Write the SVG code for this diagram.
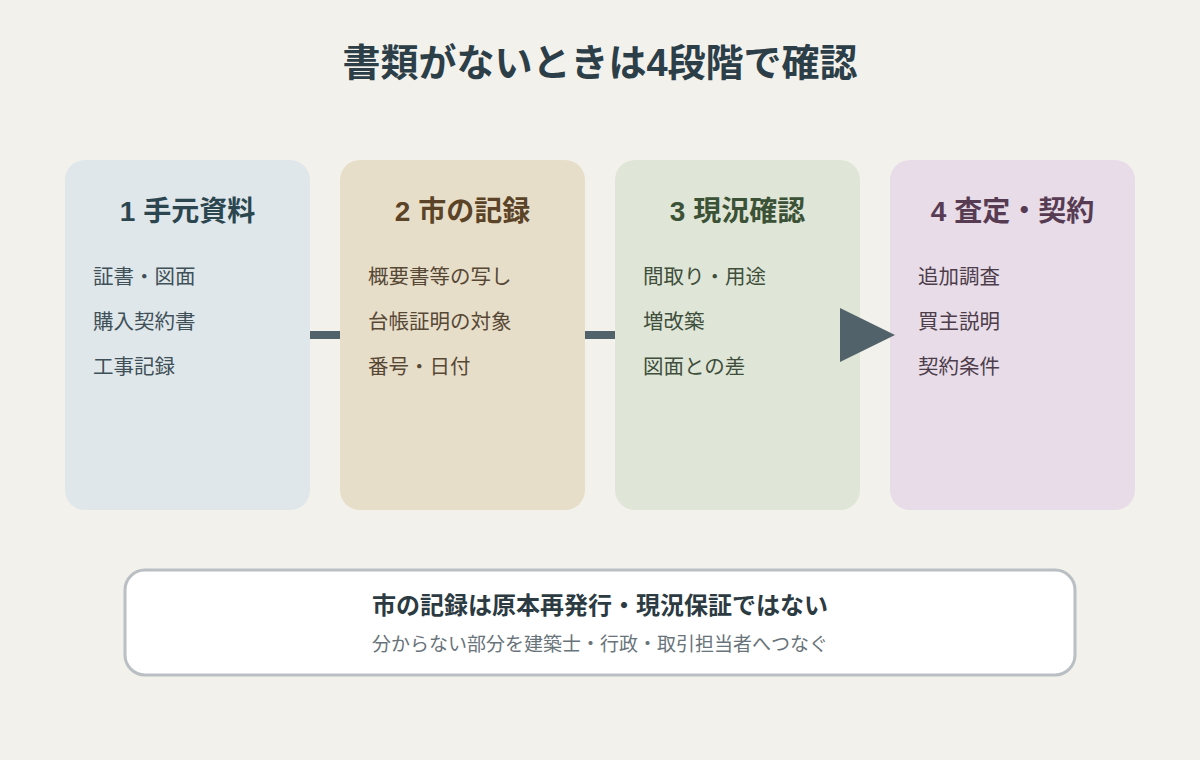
<svg xmlns="http://www.w3.org/2000/svg" width="1200" height="760" viewBox="0 0 1200 760">
<style>
text{font-family:"Liberation Sans","Noto Sans CJK JP",sans-serif}
.title{font-size:38px;font-weight:bold;fill:#2c3e47;text-anchor:middle}
.head{font-size:28px;font-weight:bold;text-anchor:middle}
.item{font-size:20.5px}
.bar{fill:#51626b}
</style>
<rect width="1200" height="760" fill="#f3f1ec"/>
<text class="title" x="600" y="76">書類がないときは4段階で確認</text>
<g id="node1">
<rect x="65" y="160" width="245" height="350" rx="20" fill="#dfe7ea"/>
<text class="head" x="187.5" y="221" fill="#2c4650">1 手元資料</text>
<text class="item" x="93" y="284" fill="#3f5058">証書・図面</text>
<text class="item" x="93" y="329" fill="#3f5058">購入契約書</text>
<text class="item" x="93" y="374" fill="#3f5058">工事記録</text>
</g>
<g id="node2">
<rect x="340" y="160" width="245" height="350" rx="20" fill="#e7dec9"/>
<text class="head" x="462.5" y="221" fill="#5a4327">2 市の記録</text>
<text class="item" x="368" y="284" fill="#574836">概要書等の写し</text>
<text class="item" x="368" y="329" fill="#574836">台帳証明の対象</text>
<text class="item" x="368" y="374" fill="#574836">番号・日付</text>
</g>
<g id="node3">
<rect x="615" y="160" width="245" height="350" rx="20" fill="#dfe6d7"/>
<text class="head" x="737.5" y="221" fill="#3b5236">3 現況確認</text>
<text class="item" x="643" y="284" fill="#404e3c">間取り・用途</text>
<text class="item" x="643" y="329" fill="#404e3c">増改築</text>
<text class="item" x="643" y="374" fill="#404e3c">図面との差</text>
</g>
<g id="node4">
<rect x="890" y="160" width="245" height="350" rx="20" fill="#e7dce8"/>
<text class="head" x="1012.5" y="221" fill="#573b53">4 査定・契約</text>
<text class="item" x="918" y="284" fill="#4d3d4a">追加調査</text>
<text class="item" x="918" y="329" fill="#4d3d4a">買主説明</text>
<text class="item" x="918" y="374" fill="#4d3d4a">契約条件</text>
</g>
<g id="connectors">
<rect class="bar" x="310" y="331" width="30" height="8"/>
<rect class="bar" x="585" y="331" width="30" height="8"/>
<polygon class="bar" points="840,308 895,335 840,362"/>
</g>
<g id="note">
<rect x="125" y="570" width="950" height="105" rx="20" fill="#ffffff" stroke="#b9bfc3" stroke-width="3"/>
<text x="600" y="614" font-size="24" font-weight="bold" fill="#2c3a42" text-anchor="middle">市の記録は原本再発行・現況保証ではない</text>
<text x="600" y="651" font-size="19" fill="#69737a" text-anchor="middle">分からない部分を建築士・行政・取引担当者へつなぐ</text>
</g>
</svg>
